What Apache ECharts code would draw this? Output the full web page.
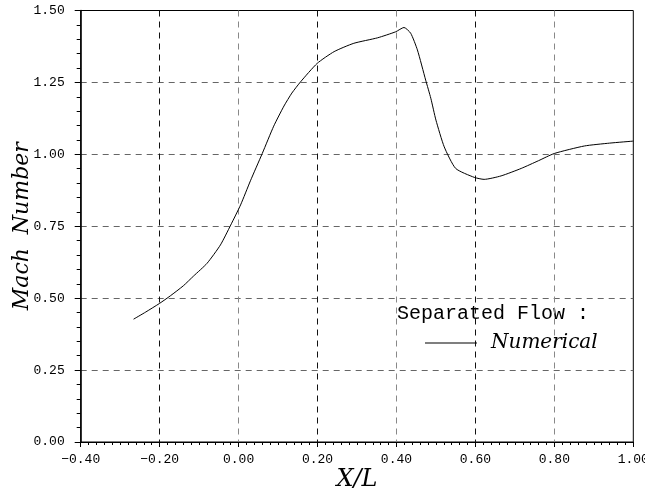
<!DOCTYPE html>
<html>
<head>
<meta charset="utf-8">
<script src="https://cdn.jsdelivr.net/npm/echarts@6/dist/echarts.min.js"></script>
<style>html,body{margin:0;padding:0;background:#fff}#c{width:645px;height:494px}</style>
</head>
<body>
<div id="c"></div>
<script>
var xValues = [-0.266,-0.235,-0.2,-0.173,-0.14,-0.114,-0.08,-0.046,-0.02,0.005,0.03,0.06,0.089,0.115,0.135,0.157,0.199,0.242,0.292,0.352,0.398,0.419,0.436,0.453,0.474,0.487,0.5,0.521,0.55,0.597,0.622,0.665,0.716,0.76,0.8,0.876,0.94,1.0];
var machValues = [0.427,0.452,0.482,0.508,0.543,0.577,0.621,0.685,0.754,0.824,0.908,1.003,1.098,1.168,1.213,1.252,1.316,1.357,1.386,1.405,1.426,1.441,1.421,1.363,1.258,1.195,1.119,1.026,0.951,0.920,0.913,0.925,0.951,0.978,1.003,1.029,1.039,1.046];
var xTicks = [-0.4,-0.2,0,0.2,0.4,0.6,0.8,1.0];
var xTickLabels = ['\u22120.40','\u22120.20','0.00','0.20','0.40','0.60','0.80','1.00'];
var yTicks = [0,0.25,0.5,0.75,1.0,1.25,1.5];
var yTickLabels = ['0.00','0.25','0.50','0.75','1.00','1.25','1.50'];
var seriesName = 'Numerical';
var legendTitle = 'Separated Flow :';

function lookup(ticks, labels, v){
  for (var i=0;i<ticks.length;i++){ if (Math.abs(ticks[i]-v)<1e-6) return labels[i]; }
  return '';
}
var data = xValues.map(function(x,i){return [x, machValues[i]];});
var chart = echarts.init(document.getElementById('c'), null, {renderer:'canvas'});
var tickFont = {fontFamily:'Liberation Mono', fontSize:13, color:'#000'};
chart.setOption({
  animation:false,
  backgroundColor:'#fff',
  grid:{left:80.7, right:11.7, top:10.5, bottom:52, show:true, borderColor:'#000', borderWidth:1, containLabel:false, outerBoundsMode:'none'},
  xAxis:{
    type:'value', min:-0.4, max:1.0, interval:0.2,
    name:'X/L', nameLocation:'middle', nameGap:26, nameMoveOverlap:false,
    nameTextStyle:{fontFamily:'DejaVu Serif', fontStyle:'italic', fontSize:24, color:'#000'},
    axisLine:{show:true, onZero:false, lineStyle:{color:'#000', width:1}},
    axisTick:{show:true, length:5, lineStyle:{color:'#000'}},
    minorTick:{show:true, splitNumber:10, length:3, lineStyle:{color:'#000'}},
    axisLabel:Object.assign({margin:11, formatter:function(v){return lookup(xTicks,xTickLabels,v);}}, tickFont),
    splitLine:{show:true, showMinLine:false, showMaxLine:false, lineStyle:{type:[6,5], color:['#111','#888'], width:1}}
  },
  yAxis:{
    type:'value', min:0, max:1.5, interval:0.25,
    name:'Mach  Number', nameLocation:'middle', nameGap:47, nameRotate:90, nameMoveOverlap:false,
    nameTextStyle:{fontFamily:'DejaVu Serif', fontStyle:'italic', fontSize:22, color:'#000'},
    axisLine:{show:true, onZero:false, lineStyle:{color:'#000', width:1.5}},
    axisTick:{show:true, length:6, lineStyle:{color:'#000'}},
    minorTick:{show:true, splitNumber:5, length:4, lineStyle:{color:'#000'}},
    axisLabel:Object.assign({margin:16, formatter:function(v){return lookup(yTicks,yTickLabels,v);}}, tickFont),
    splitLine:{show:true, showMinLine:false, showMaxLine:false, lineStyle:{type:[6,5], color:'#666', width:1}}
  },
  legend:{
    show:true, data:[{name:seriesName, icon:'rect'}], left:420, top:328, itemWidth:52, itemHeight:1,
    itemStyle:{color:'#000'},
    textStyle:{fontFamily:'DejaVu Serif', fontStyle:'italic', fontSize:20, color:'#000', padding:[0,0,0,9]}
  },
  graphic:[{
    type:'text', left:397, top:304,
    style:{text:legendTitle, fontFamily:'Liberation Mono', fontSize:20, fill:'#000'}
  }],
  series:[{
    name:seriesName, type:'line', data:data, symbol:'none', showSymbol:false,
    smooth:0.2, lineStyle:{color:'#000', width:1}, itemStyle:{color:'#000'}
  }]
});
</script>
</body>
</html>
